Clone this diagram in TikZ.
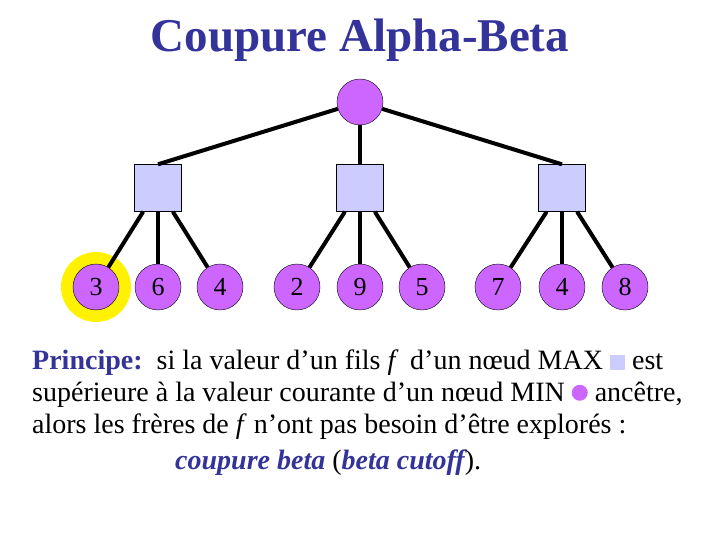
\documentclass[tikz,border=0pt]{standalone}
\usepackage{fontspec}
\setmainfont{Liberation Serif}
\definecolor{navy}{RGB}{51,51,153}
\definecolor{minc}{RGB}{204,102,255}
\definecolor{maxc}{RGB}{204,204,255}
\begin{document}
\begin{tikzpicture}[x=1pt,y=-1pt,
 leaf/.style={circle,draw=black,fill=minc,minimum size=46pt,inner sep=0pt,font=\fontsize{26}{26}\selectfont},
 mx/.style={rectangle,draw=black,fill=maxc,minimum size=47pt,inner sep=0pt},
 edge/.style={line width=4pt},
 txt/.style={anchor=west,font=\fontsize{28}{32}\selectfont,inner sep=0pt}]
\useasboundingbox (0,0) rectangle (720,540);
\node[font=\bfseries\fontsize{47}{47}\selectfont,text=navy] (title) at (360,40) {Coupure Alpha-Beta};
\fill[yellow] (96,287) circle (35);
\node[leaf] (r) at (360,102) {};
\node[mx] (a) at (158,188) {};
\node[mx] (b) at (360,188) {};
\node[mx] (c) at (562,188) {};
\foreach \n/\x/\v in {l1/96/3,l2/158/6,l3/220/4,l4/297/2,l5/360/9,l6/422/5,l7/498/7,l8/562/4,l9/625/8}
  \node[leaf] (\n) at (\x,287) {\v};
\draw[edge] (r) -- (a.north); \draw[edge] (r) -- (b); \draw[edge] (r) -- (c.north);
\foreach \p/\k in {a/1,a/2,a/3,b/4,b/5,b/6,c/7,c/8,c/9} \draw[edge] (\p) -- (l\k);
\node[txt] (t1) at (32,363) {\textcolor{navy}{\bfseries Principe:}\ \ si la valeur d’un fils \textit{f}\, d’un nœud MAX \textcolor{maxc}{\rule{15pt}{15pt}} est};
\node[txt] (t2) at (32,395) {supérieure à la valeur courante d’un nœud MIN \textcolor{minc}{\raisebox{1pt}{\tikz\fill circle (8pt);}} ancêtre,};
\node[txt] (t3) at (32,427) {alors les frères de \textit{f} n’ont pas besoin d’être explorés :};
\node[txt] (t4) at (175,463) {\textcolor{navy}{\bfseries\itshape coupure beta} (\textcolor{navy}{\bfseries\itshape beta cutoff}).};
\end{tikzpicture}
\end{document}
